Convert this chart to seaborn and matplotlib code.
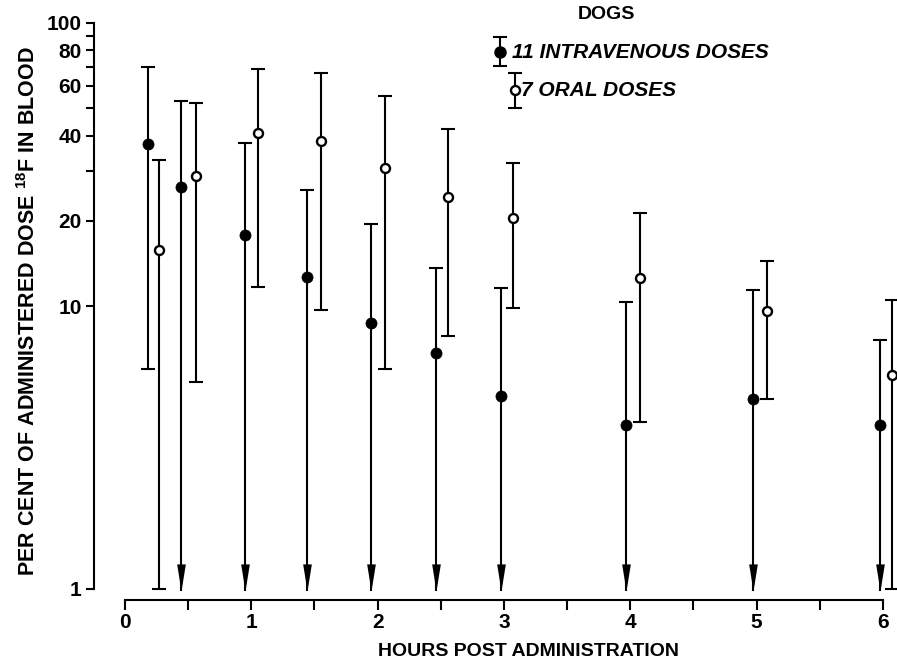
import numpy as np
import pandas as pd
import matplotlib
matplotlib.use("Agg")
import matplotlib.pyplot as plt
from matplotlib.path import Path
from matplotlib.ticker import FixedLocator, NullFormatter
import seaborn as sns

# ---------------- data ----------------
hours_iv = [0.18, 0.44, 0.95, 1.44, 1.95, 2.46, 2.98, 3.97, 4.97, 5.98]
iv_mean = [37.4, 26.3, 17.8, 12.7, 8.7, 6.8, 4.8, 3.8, 4.7, 3.8]
iv_upper = [70.0, 53.0, 37.7, 25.7, 19.5, 13.6, 11.6, 10.3, 11.4, 7.6]
iv_lower = [6.0, 0.98, 0.98, 0.98, 0.98, 0.98, 0.98, 0.98, 0.98, 0.98]
iv_below_limit = [False, True, True, True, True, True, True, True, True, True]

hours_oral = [0.27, 0.56, 1.05, 1.55, 2.06, 2.56, 3.07, 4.08, 5.08, 6.07]
oral_mean = [15.8, 28.8, 40.7, 38.2, 30.8, 24.3, 20.4, 12.6, 9.6, 5.7]
oral_upper = [32.7, 52.2, 68.7, 66.6, 55.2, 42.2, 31.9, 21.3, 14.4, 10.5]
oral_lower = [1.0, 5.4, 11.7, 9.7, 6.0, 7.85, 9.8, 3.9, 4.7, 1.0]

y_major = [1, 10, 20, 40, 60, 80, 100]
y_minor = [30, 50, 70, 90]
x_major = [0, 1, 2, 3, 4, 5, 6]
x_minor = [0.5, 1.5, 2.5, 3.5, 4.5, 5.5]

title_text = "DOGS"
iv_label = "11 INTRAVENOUS DOSES"
oral_label = "7 ORAL DOSES"
x_label = "HOURS POST ADMINISTRATION"
y_label = r"PER CENT OF ADMINISTERED DOSE $^{18}$F IN BLOOD"

# ---------------- style ----------------
sns.set_theme(style="ticks")
plt.rcParams["font.family"] = ["Liberation Sans", "DejaVu Sans"]
plt.rcParams["font.weight"] = "bold"
plt.rcParams["mathtext.fontset"] = "custom"
plt.rcParams["mathtext.rm"] = "Liberation Sans:bold"
plt.rcParams["mathtext.bf"] = "Liberation Sans:bold"
plt.rcParams["mathtext.default"] = "bf"

df_iv = pd.DataFrame({"hours": hours_iv, "mean": iv_mean, "upper": iv_upper,
                      "lower": iv_lower, "arrow": iv_below_limit})
df_oral = pd.DataFrame({"hours": hours_oral, "mean": oral_mean,
                        "upper": oral_upper, "lower": oral_lower})

fig = plt.figure(figsize=(8.97, 6.67), dpi=100)
W, H = 897, 667
ax_l, ax_r, ax_t, ax_b = 94, 897, 23, 600
ax = fig.add_axes([ax_l / W, (H - ax_b) / H, (ax_r - ax_l) / W, (ax_b - ax_t) / H])

LW = 1.5
CAP = 10

arrow_marker = Path([(-0.32, 2.0), (0.32, 2.0), (0.0, 0.0), (-0.32, 2.0)],
                    [Path.MOVETO, Path.LINETO, Path.LINETO, Path.CLOSEPOLY])

# vertical bars
for d in (df_iv, df_oral):
    ax.vlines(d["hours"], d["lower"], d["upper"], color="black", lw=LW,
              zorder=2, clip_on=False)
# upper caps
for d in (df_iv, df_oral):
    ax.plot(d["hours"], d["upper"], ls="none", marker="_", ms=CAP, mew=LW,
            color="black", zorder=2, clip_on=False)
# lower caps (measured lower bounds)
iv_cap = df_iv[~df_iv["arrow"]]
ax.plot(iv_cap["hours"], iv_cap["lower"], ls="none", marker="_", ms=CAP,
        mew=LW, color="black", zorder=2, clip_on=False)
ax.plot(df_oral["hours"], df_oral["lower"], ls="none", marker="_", ms=CAP,
        mew=LW, color="black", zorder=2, clip_on=False)
# arrowheads (below detection)
iv_arr = df_iv[df_iv["arrow"]]
ax.plot(iv_arr["hours"], iv_arr["lower"], ls="none", marker=arrow_marker,
        ms=39, mew=0, color="black", zorder=3, clip_on=False)

# points
sns.scatterplot(data=df_iv, x="hours", y="mean", ax=ax, s=64, color="black",
                edgecolor="black", linewidth=0.5, zorder=4, clip_on=False,
                legend=False)
sns.scatterplot(data=df_oral, x="hours", y="mean", ax=ax, s=42, color="white",
                edgecolor="black", linewidth=1.7, zorder=4, clip_on=False,
                legend=False)

# ---------------- axes ----------------
ax.set_yscale("log")
px_per_dec = 283.0
y_bottom = 10 ** (-(ax_b - 589) / px_per_dec)
ax.set_ylim(y_bottom, 100)
px_per_hr = 126.3
ax.set_xlim((ax_l - 125) / px_per_hr, (ax_r - 125) / px_per_hr)

ax.yaxis.set_major_locator(FixedLocator(y_major))
ax.set_yticklabels([str(v) for v in y_major])
ax.yaxis.set_minor_locator(FixedLocator(y_minor))
ax.yaxis.set_minor_formatter(NullFormatter())
ax.xaxis.set_major_locator(FixedLocator(x_major))
ax.set_xticklabels([str(v) for v in x_major])
ax.xaxis.set_minor_locator(FixedLocator(x_minor))
ax.xaxis.set_minor_formatter(NullFormatter())

sns.despine(ax=ax)
ax.spines["left"].set_bounds(1, 100)
ax.spines["bottom"].set_bounds(0, 6)
for s in ("left", "bottom"):
    ax.spines[s].set_linewidth(LW)
    ax.spines[s].set_color("black")

ax.tick_params(axis="both", which="both", direction="out", width=LW,
               color="black", labelcolor="black")
ax.tick_params(axis="y", which="both", length=6, pad=3, labelsize=15)
ax.tick_params(axis="x", which="both", length=7, pad=2, labelsize=15)
for lab in ax.get_xticklabels() + ax.get_yticklabels():
    lab.set_fontweight("bold")


def fx(px):
    return (px - ax_l) / (ax_r - ax_l)


def fy(py):
    return (ax_b - py) / (ax_b - ax_t)


ax.set_xlabel(x_label, fontsize=14, fontweight="bold", color="black")
ax.xaxis.set_label_coords(fx(529), -0.075)
ax.set_ylabel(y_label, fontsize=15.5, fontweight="bold", color="black")
ax.yaxis.set_label_coords(-0.067, 0.5)

ax.grid(False)
ax.set_facecolor("white")
fig.patch.set_facecolor("white")

# ---------------- legend (hand-drawn like the original) ----------------
tr = ax.transAxes
ax.text(fx(606), fy(15), title_text, transform=tr, ha="center", va="center",
        fontsize=14, fontweight="bold", color="black", clip_on=False)

# IV symbol
ax.plot([fx(500), fx(500)], [fy(37), fy(66)], transform=tr, color="black",
        lw=LW, clip_on=False)
ax.plot([fx(500), fx(500)], [fy(37), fy(66)], transform=tr, ls="none",
        marker="_", ms=CAP, mew=LW, color="black", clip_on=False)
ax.plot([fx(500)], [fy(52)], transform=tr, ls="none", marker="o", ms=8,
        color="black", clip_on=False)
ax.text(fx(512), fy(52), iv_label, transform=tr, ha="left", va="center",
        fontsize=15, fontweight="bold", fontstyle="italic", color="black")

# oral symbol
ax.plot([fx(515), fx(515)], [fy(73), fy(108)], transform=tr, color="black",
        lw=LW, clip_on=False)
ax.plot([fx(515), fx(515)], [fy(73), fy(108)], transform=tr, ls="none",
        marker="_", ms=CAP, mew=LW, color="black", clip_on=False)
ax.plot([fx(515)], [fy(90)], transform=tr, ls="none", marker="o", ms=6.5,
        mfc="white", mec="black", mew=1.7, clip_on=False)
ax.text(fx(521), fy(90), oral_label, transform=tr, ha="left", va="center",
        fontsize=15, fontweight="bold", fontstyle="italic", color="black")

fig.savefig("out.png", dpi=100, facecolor="white")
